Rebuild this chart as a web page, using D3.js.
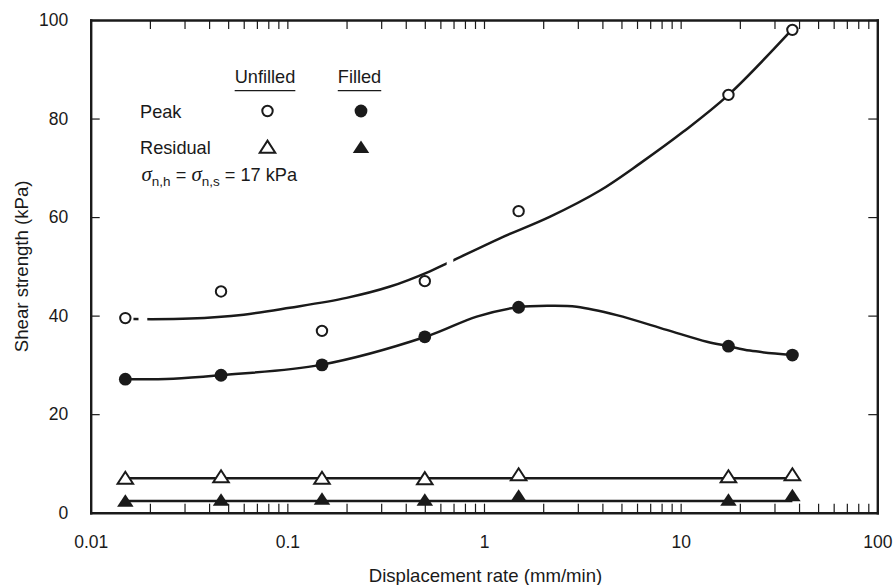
<!DOCTYPE html>
<html>
<head>
<meta charset="utf-8">
<script src="https://cdn.jsdelivr.net/npm/d3@7"></script>
<style>
  html, body { margin: 0; padding: 0; background: #fff; }
  svg { display: block; font-family: "Liberation Sans", Arial, Helvetica, sans-serif; }
</style>
</head>
<body>
<svg id="chart" width="893" height="585"></svg>
<script>
// Displacement rate (mm/min) at which each test was run
const rates = [0.015, 0.046, 0.15, 0.5, 1.5, 17.5, 37];

// Measured shear strengths (kPa)
const peakUnfilled     = [39.5, 44.9, 36.9, 47.0, 61.2, 84.8, 98.0];
const peakFilled       = [27.1, 27.9, 30.0, 35.7, 41.7, 33.8, 32.0];
const residualUnfilled = [7.1, 7.4, 7.1, 7.0, 7.8, 7.4, 7.8];
const residualFilled   = [2.5, 2.7, 2.9, 2.7, 3.5, 2.7, 3.6];

// Hand-drawn trend curves: [rate, strength] knots
const trendPeakUnfilled = [
  [0.0165, 39.3], [0.032, 39.4], [0.06, 40.2], [0.103, 41.6], [0.2, 43.6], [0.333, 45.9],
  [0.531, 49.0], [0.672, 50.9], [1.205, 55.7], [2.17, 60.1], [3.89, 65.4],
  [6.22, 70.9], [10.3, 77.3], [17.5, 84.8], [36.7, 98.0]
];
// breaks in the unfilled peak curve (rate ranges left blank)
const trendPeakUnfilledGaps = [[0.0175, 0.0194], [0.646, 0.698]];

const trendPeakFilled = [
  [0.0148, 27.1], [0.0263, 27.2], [0.0455, 27.9], [0.148, 30.0], [0.505, 35.7],
  [0.918, 39.8], [1.48, 41.7], [2.17, 42.0], [2.96, 41.8], [4.73, 40.1],
  [8.49, 37.1], [13.6, 34.7], [17.5, 33.8], [22.5, 32.9], [36.7, 32.0]
];
const trendResidualUnfilled = [[0.015, 7.0], [37, 7.0]];
const trendResidualFilled   = [[0.015, 2.4], [37, 2.4]];

// Axis ticks
const xMajor = [0.01, 0.1, 1, 10, 100];
const xTickLabels = ["0.01", "0.1", "1", "10", "100"];
const yTicks = [0, 20, 40, 60, 80, 100];

// Legend
const legendColumns = ["Unfilled", "Filled"];
const legendRows = ["Peak", "Residual"];

const svg = d3.select("#chart");
const W = 893, H = 585;
const plotLeft = 90.7, plotRight = 877.3, plotTop = 20, plotBottom = 512.7;

const x = d3.scaleLog().domain([0.01, 100]).range([plotLeft, plotRight]);
const y = d3.scaleLinear().domain([0, 100]).range([plotBottom, plotTop]);

// minor + major log ticks between 0.01 and 100
const xAllTicks = [];
for (let e = -2; e < 2; e++) {
  for (let m = 1; m <= 9; m++) xAllTicks.push(+(m * Math.pow(10, e)).toPrecision(3));
}
xAllTicks.push(100);

const TICK = 9;
const frameW = 2.4;
const tickW = 1.2;
const ink = "#1a1a1a";
const FONT = "'Liberation Sans', Arial, Helvetica, sans-serif";

function styleAxis(g) {
  g.select(".domain").attr("stroke", ink).attr("stroke-width", frameW).attr("stroke-linecap", "square");
  g.selectAll(".tick line").attr("stroke", ink).attr("stroke-width", tickW);
  g.selectAll(".tick text").attr("fill", ink).attr("font-size", 17.5).attr("font-family", FONT);
}

// bottom axis
const gx = svg.append("g").attr("transform", `translate(0,${plotBottom})`)
  .call(d3.axisBottom(x).tickValues(xAllTicks).tickSizeInner(-TICK).tickSizeOuter(0)
    .tickFormat(d => { const i = xMajor.indexOf(d); return i >= 0 ? xTickLabels[i] : ""; }))
  .call(styleAxis);
gx.selectAll(".tick text").attr("y", 35.6).attr("dy", 0);

// top axis
svg.append("g").attr("transform", `translate(0,${plotTop})`)
  .call(d3.axisTop(x).tickValues(xAllTicks).tickSizeInner(-TICK).tickSizeOuter(0).tickFormat(""))
  .call(styleAxis);

// left axis
svg.append("g").attr("transform", `translate(${plotLeft},0)`)
  .call(d3.axisLeft(y).tickValues(yTicks).tickSizeInner(-TICK).tickSizeOuter(0).tickPadding(22.4))
  .call(styleAxis);

// right axis
svg.append("g").attr("transform", `translate(${plotRight},0)`)
  .call(d3.axisRight(y).tickValues(yTicks).tickSizeInner(-TICK).tickSizeOuter(0).tickFormat(""))
  .call(styleAxis);

// axis titles
svg.append("text")
  .attr("x", 485.5).attr("y", 581.5)
  .attr("text-anchor", "middle").attr("font-size", 18.6).attr("fill", ink)
  .text("Displacement rate (mm/min)");

svg.append("text")
  .attr("transform", `translate(28,${(plotTop + plotBottom) / 2}) rotate(-90)`)
  .attr("text-anchor", "middle").attr("font-size", 18.6).attr("fill", ink)
  .text("Shear strength (kPa)");

// trend curves
const line = d3.line().x(d => x(d[0])).y(d => y(d[1])).curve(d3.curveCatmullRom.alpha(0.5));
const curveW = 2.5;

// clip region that leaves the breaks in the unfilled peak curve blank
const clip = svg.append("defs").append("clipPath").attr("id", "gapClip");
let startX = 0;
trendPeakUnfilledGaps.forEach(([a, b]) => {
  clip.append("rect").attr("x", startX).attr("y", 0).attr("width", x(a) - startX).attr("height", H);
  startX = x(b);
});
clip.append("rect").attr("x", startX).attr("y", 0).attr("width", W - startX).attr("height", H);

svg.append("path").datum(trendPeakUnfilled)
  .attr("d", line).attr("fill", "none").attr("stroke", ink).attr("stroke-width", curveW)
  .attr("clip-path", "url(#gapClip)");

[trendPeakFilled, trendResidualUnfilled, trendResidualFilled].forEach(t => {
  svg.append("path").datum(t)
    .attr("d", line).attr("fill", "none").attr("stroke", ink).attr("stroke-width", curveW);
});

// markers
function triPath(w, h) {
  return `M${-w / 2},${h / 2}L${w / 2},${h / 2}L0,${-h / 2}Z`;
}
const markers = {
  openCircle: g => g.append("circle").attr("r", 5.2).attr("fill", "#fff").attr("stroke", ink).attr("stroke-width", 2),
  fullCircle: g => g.append("circle").attr("r", 6.4).attr("fill", ink),
  openTri: g => g.append("path").attr("d", triPath(15.5, 12)).attr("fill", "#fff").attr("stroke", ink)
    .attr("stroke-width", 2).attr("stroke-linejoin", "miter"),
  fullTri: g => g.append("path").attr("d", triPath(16.5, 12.5)).attr("fill", ink)
};

function plotSeries(values, kind) {
  const g = svg.append("g");
  values.forEach((v, i) => {
    const m = g.append("g").attr("transform", `translate(${x(rates[i])},${y(v)})`);
    markers[kind](m);
  });
}
plotSeries(residualUnfilled, "openTri");
plotSeries(residualFilled, "fullTri");
plotSeries(peakFilled, "fullCircle");
plotSeries(peakUnfilled, "openCircle");

// legend
const legend = svg.append("g").attr("fill", ink).attr("font-size", 18.2);
const colX = [265, 359.5];
legendColumns.forEach((c, i) => {
  const t = legend.append("text").attr("x", colX[i]).attr("y", 83.3).attr("text-anchor", "middle").text(c);
  const bb = t.node().getBBox();
  legend.append("line").attr("x1", bb.x).attr("x2", bb.x + bb.width)
    .attr("y1", 90.7).attr("y2", 90.7).attr("stroke", ink).attr("stroke-width", 1.2);
});
const rowY = [111, 146.7];
legendRows.forEach((r, i) => {
  legend.append("text").attr("x", 140).attr("y", rowY[i] + 7).text(r);
});
const legendKinds = [["openCircle", "fullCircle"], ["openTri", "fullTri"]];
const legendMarkX = [267.5, 361];
legendKinds.forEach((row, ri) => row.forEach((k, ci) => {
  const m = legend.append("g").attr("transform", `translate(${legendMarkX[ci]},${rowY[ri]})`);
  markers[k](m);
}));

// normal stress note
const note = legend.append("text").attr("x", 141.5).attr("y", 180.5);
const sig = s => note.append("tspan").attr("font-family", "'Liberation Serif', 'Times New Roman', serif")
  .attr("font-style", "italic").attr("font-size", 21).text(s);
const sub = s => note.append("tspan").attr("font-size", 13.5).attr("dy", 5.5).text(s);
const norm = s => note.append("tspan").attr("dy", -5.5).text(s);
sig("σ"); sub("n,h"); norm(" = "); sig("σ"); sub("n,s"); norm(" = 17 kPa");
</script>
</body>
</html>
